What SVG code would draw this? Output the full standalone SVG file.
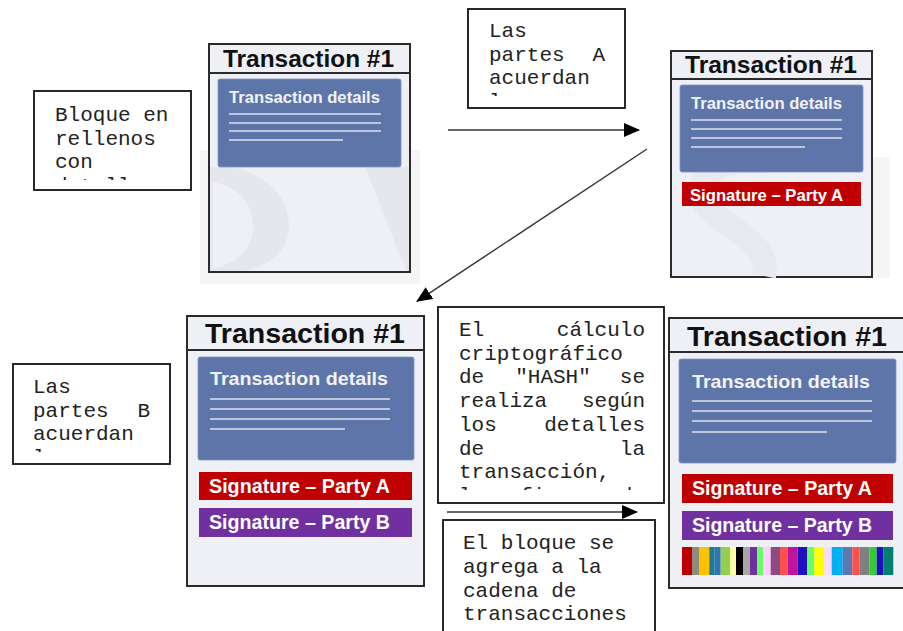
<svg xmlns="http://www.w3.org/2000/svg" width="903" height="631" viewBox="0 0 903 631">
<style>
.card{fill:#eff0f6;stroke:#2b2b2b;stroke-width:2}
.hdr{stroke:#2b2b2b;stroke-width:2}
.title{font-family:"Liberation Sans",Arial,sans-serif;font-weight:bold;fill:#111}
.det{fill:#5e75a9;stroke:#8496c2;stroke-width:0.8}
.dt{font-family:"Liberation Sans",Arial,sans-serif;font-weight:bold;fill:#f2f3f8}
.ln{stroke:#dde1ec;stroke-width:1.6}
.sigA{fill:#c00000}
.sigB{fill:#7030a0}
.st{font-family:"Liberation Sans",Arial,sans-serif;font-weight:bold;fill:#ffffff}
.box{fill:#ffffff;stroke:#111;stroke-width:1.8}
.mono{font-family:"Liberation Mono","Courier New",monospace;font-size:21px;fill:#222}
.conn{stroke:#333;stroke-width:1.4;fill:none}
.wm{fill:#e6e7ed}
.bg{fill:#f5f5f8}
</style>
<defs>
<marker id="ah" viewBox="0 0 16 14" refX="15" refY="7" markerWidth="16" markerHeight="14" markerUnits="userSpaceOnUse" orient="auto">
<path d="M0,0 L16,7 L0,14 Z" fill="#000"/>
</marker>
<clipPath id="c1"><rect x="34" y="91" width="157" height="89"/></clipPath>
<clipPath id="c2"><rect x="468" y="9" width="157" height="87"/></clipPath>
<clipPath id="c3"><rect x="13" y="364" width="157" height="88"/></clipPath>
<clipPath id="c4"><rect x="438" y="307" width="226" height="183"/></clipPath>
</defs>
<rect width="903" height="631" fill="#ffffff"/>
<rect class="bg" x="200" y="150" width="220" height="134"/>
<rect class="bg" x="860" y="157" width="30" height="121"/>

<g id="card1">
<rect class="card" x="209" y="44" width="201" height="228"/>
<path class="wm" fill-rule="evenodd" d="M210,167 L232,167 C270,175 289,200 289,225 C289,250 270,268 240,271 L210,271 Z M213,182 L213,268 C238,264 253,248 253,226 C253,204 238,186 213,182 Z"/>
<path class="wm" d="M365,167 L409,167 L409,271 L406,271 Z"/>
<line class="hdr" x1="209" y1="73" x2="410" y2="73"/>
<text class="title" x="223" y="67" font-size="24" textLength="171" lengthAdjust="spacingAndGlyphs">Transaction #1</text>
<rect class="det" x="218" y="79" width="183" height="88" rx="2"/>
<text class="dt" x="229" y="103" font-size="16" textLength="151" lengthAdjust="spacingAndGlyphs">Transaction details</text>
<line class="ln" x1="229" y1="114" x2="381" y2="114"/>
<line class="ln" x1="229" y1="123" x2="381" y2="123"/>
<line class="ln" x1="229" y1="131" x2="381" y2="131"/>
<line class="ln" x1="229" y1="140" x2="343" y2="140"/>
</g>

<g id="card2">
<rect class="card" x="671" y="51" width="201" height="226"/>
<path d="M765,162 C705,156 684,190 714,214 C742,236 770,248 764,276" fill="none" stroke="#e8e9ee" stroke-width="24"/>
<line class="hdr" x1="671" y1="79" x2="872" y2="79"/>
<text class="title" x="685" y="73" font-size="24" textLength="172" lengthAdjust="spacingAndGlyphs">Transaction #1</text>
<rect class="det" x="680" y="85" width="183" height="87" rx="2"/>
<text class="dt" x="691" y="109" font-size="16" textLength="151" lengthAdjust="spacingAndGlyphs">Transaction details</text>
<line class="ln" x1="691" y1="120" x2="842" y2="120"/>
<line class="ln" x1="691" y1="129" x2="842" y2="129"/>
<line class="ln" x1="691" y1="138" x2="842" y2="138"/>
<line class="ln" x1="691" y1="147" x2="805" y2="147"/>
<rect class="sigA" x="682" y="182" width="179" height="24"/>
<text class="st" x="690" y="201" font-size="16.5" textLength="153" lengthAdjust="spacingAndGlyphs">Signature – Party A</text>
</g>

<g id="card3">
<rect class="card" x="187" y="316" width="237" height="270"/>
<line class="hdr" x1="187" y1="350" x2="424" y2="350"/>
<text class="title" x="205" y="343" font-size="28" textLength="200" lengthAdjust="spacingAndGlyphs">Transaction #1</text>
<rect class="det" x="198" y="357" width="216" height="103" rx="2"/>
<text class="dt" x="210" y="385" font-size="19" textLength="178" lengthAdjust="spacingAndGlyphs">Transaction details</text>
<line class="ln" x1="210" y1="399" x2="390" y2="399"/>
<line class="ln" x1="210" y1="409" x2="390" y2="409"/>
<line class="ln" x1="210" y1="419" x2="390" y2="419"/>
<line class="ln" x1="210" y1="429" x2="345" y2="429"/>
<rect class="sigA" x="199" y="472" width="213" height="28"/>
<text class="st" x="209" y="493" font-size="19.5" textLength="181" lengthAdjust="spacingAndGlyphs">Signature – Party A</text>
<rect class="sigB" x="199" y="508" width="213" height="29"/>
<text class="st" x="209" y="529" font-size="19.5" textLength="181" lengthAdjust="spacingAndGlyphs">Signature – Party B</text>
</g>

<g id="card4">
<rect class="card" x="669" y="318" width="237" height="270"/>
<line class="hdr" x1="669" y1="352" x2="906" y2="352"/>
<text class="title" x="687" y="346" font-size="28" textLength="200" lengthAdjust="spacingAndGlyphs">Transaction #1</text>
<rect class="det" x="679" y="359" width="217" height="104" rx="2"/>
<text class="dt" x="692" y="388" font-size="19" textLength="178" lengthAdjust="spacingAndGlyphs">Transaction details</text>
<line class="ln" x1="692" y1="401" x2="872" y2="401"/>
<line class="ln" x1="692" y1="411" x2="872" y2="411"/>
<line class="ln" x1="692" y1="421" x2="872" y2="421"/>
<line class="ln" x1="692" y1="432" x2="827" y2="432"/>
<rect class="sigA" x="682" y="474" width="211" height="29"/>
<text class="st" x="692" y="495" font-size="19.5" textLength="180" lengthAdjust="spacingAndGlyphs">Signature – Party A</text>
<rect class="sigB" x="682" y="511" width="211" height="29"/>
<text class="st" x="692" y="532" font-size="19.5" textLength="180" lengthAdjust="spacingAndGlyphs">Signature – Party B</text>
<g id="hashbar">
<rect x="682" y="547" width="10" height="28" fill="#c00000"/>
<rect x="692" y="547" width="7" height="28" fill="#8c8c80"/>
<rect x="699" y="547" width="10.3" height="28" fill="#ffc000"/>
<rect x="709.3" y="547" width="5" height="28" fill="#1e7a8c"/>
<rect x="714.3" y="547" width="6.4" height="28" fill="#2e75b6"/>
<rect x="720.7" y="547" width="9.3" height="28" fill="#92d050"/>
<rect x="730" y="547" width="6" height="28" fill="#ffffa8"/>
<rect x="736" y="547" width="7.3" height="28" fill="#000000"/>
<rect x="743.3" y="547" width="6.7" height="28" fill="#a6a6a6"/>
<rect x="750" y="547" width="7.3" height="28" fill="#7030a0"/>
<rect x="757.3" y="547" width="6" height="28" fill="#66ff66"/>
<rect x="763.3" y="547" width="7.4" height="28" fill="#ffd0ff"/>
<rect x="770.7" y="547" width="9.3" height="28" fill="#8e4a82"/>
<rect x="780" y="547" width="7.7" height="28" fill="#ff5050"/>
<rect x="787.7" y="547" width="10" height="28" fill="#c0149c"/>
<rect x="797.7" y="547" width="9.6" height="28" fill="#2010c0"/>
<rect x="807.3" y="547" width="7" height="28" fill="#66ff66"/>
<rect x="814.3" y="547" width="10" height="28" fill="#ffff00"/>
<rect x="824.3" y="547" width="7.4" height="28" fill="#ffd8ff"/>
<rect x="831.7" y="547" width="11" height="28" fill="#00b0f0"/>
<rect x="842.7" y="547" width="9.6" height="28" fill="#5b78b0"/>
<rect x="852.3" y="547" width="7" height="28" fill="#ff5050"/>
<rect x="859.3" y="547" width="10" height="28" fill="#808080"/>
<rect x="869.3" y="547" width="7.4" height="28" fill="#33cc33"/>
<rect x="876.7" y="547" width="6.6" height="28" fill="#2010c0"/>
<rect x="883.3" y="547" width="10" height="28" fill="#008070"/>
</g>
</g>

<g id="note1">
<rect class="box" x="34" y="91" width="157" height="99"/>
<g clip-path="url(#c1)" class="mono">
<text x="55" y="121">Bloque en</text>
<text x="55" y="144.7">rellenos</text>
<text x="55" y="168.4">con</text>
<text x="55" y="192.1">detalles</text>
</g>
</g>

<g id="note2">
<rect class="box" x="468" y="9" width="157" height="99"/>
<g clip-path="url(#c2)" class="mono">
<text x="489" y="37">Las</text>
<text x="489" y="60.7">partes</text>
<text x="605" y="60.7" text-anchor="end">A</text>
<text x="489" y="84.4">acuerdan</text>
<text x="489" y="108.1">las</text>
</g>
</g>

<g id="note3">
<rect class="box" x="13" y="364" width="157" height="100"/>
<g clip-path="url(#c3)" class="mono">
<text x="33" y="393">Las</text>
<text x="33" y="416.7">partes</text>
<text x="150" y="416.7" text-anchor="end">B</text>
<text x="33" y="440.4">acuerdan</text>
<text x="33" y="464.1">las</text>
</g>
</g>

<g id="note4">
<rect class="box" x="438" y="307" width="226" height="196"/>
<g clip-path="url(#c4)" class="mono">
<text x="459" y="336">El</text>
<text x="645" y="336" text-anchor="end">cálculo</text>
<text x="459" y="359.7">criptográfico</text>
<text x="459" y="383.4">de</text>
<text x="553" y="383.4" text-anchor="middle">"HASH"</text>
<text x="645" y="383.4" text-anchor="end">se</text>
<text x="459" y="407.1">realiza</text>
<text x="645" y="407.1" text-anchor="end">según</text>
<text x="459" y="430.8">los</text>
<text x="645" y="430.8" text-anchor="end">detalles</text>
<text x="459" y="454.5">de</text>
<text x="645" y="454.5" text-anchor="end">la</text>
<text x="459" y="478.2">transacción,</text>
<text x="459" y="501.9">las</text>
<text x="520" y="501.9">firmas</text>
<text x="645" y="501.9" text-anchor="end">de</text>
</g>
</g>

<g id="note5">
<rect class="box" x="443" y="520" width="212" height="130"/>
<g class="mono">
<text x="463" y="549">El bloque se</text>
<text x="463" y="573">agrega a la</text>
<text x="463" y="597">cadena de</text>
<text x="463" y="620">transacciones</text>
</g>
</g>

<g id="connectors">
<line class="conn" x1="448" y1="130" x2="639" y2="130" marker-end="url(#ah)"/>
<line class="conn" x1="647" y1="149" x2="417" y2="301.3" marker-end="url(#ah)"/>
<line class="conn" x1="447" y1="512" x2="637" y2="512" marker-end="url(#ah)"/>
</g>
</svg>
